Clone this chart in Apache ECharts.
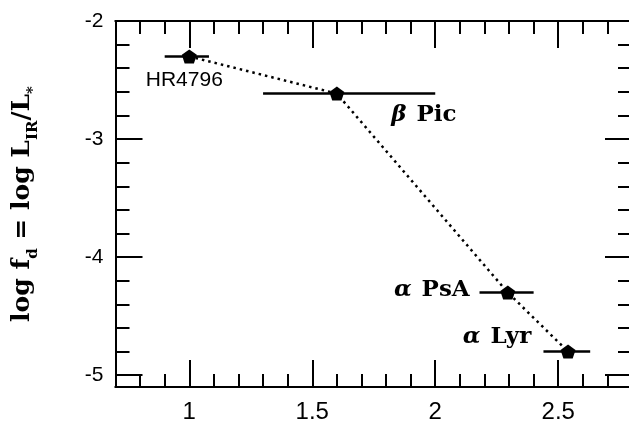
<!DOCTYPE html>
<html><head><meta charset="utf-8">
<script src="https://cdn.jsdelivr.net/npm/echarts@6/dist/echarts.min.js"></script>
<style>html,body{margin:0;padding:0;background:#fff}#c{width:629px;height:423px}</style>
</head><body><div id="c"></div>
<script>
// ---- data ----
const stars = ['HR4796', 'β Pic', 'α PsA', 'α Lyr'];
const xVals = [1.0, 1.60, 2.295, 2.54];
const yVals = [-2.30, -2.615, -4.30, -4.80];
const xLow  = [0.90, 1.30, 2.18, 2.44];
const xHigh = [1.08, 2.00, 2.40, 2.63];
const xMajorTicks = [1, 1.5, 2, 2.5];
const xMinorTicks = [0.8, 0.9, 1.1, 1.2, 1.3, 1.4, 1.6, 1.7, 1.8, 1.9, 2.1, 2.2, 2.3, 2.4, 2.6, 2.7];
const yMajorTicks = [-5, -4, -3, -2];
const yMinorTicks = [-4.8, -4.6, -4.4, -4.2, -3.8, -3.6, -3.4, -3.2, -2.8, -2.6, -2.4, -2.2];
const xRange = [0.7, 2.8];
const yRange = [-5.1, -2];

// ---- styling ----
const labelOffsets = [[-5, 24], [87, 21], [-76, -3], [-71, -15]];
const gridBox = { left: 115.5, top: 21, right: -3, bottom: 36, outerBoundsMode: 'none' };
const black = '#000';
const sansFont = 'Liberation Sans';
const serifFont = 'DejaVu Serif';

function xAxisDef(gridIndex, position, ticks, len, showLabels) {
  return {
    type: 'value', gridIndex, position, min: xRange[0], max: xRange[1],
    axisLine: { show: true, onZero: false, lineStyle: { color: black, width: 2 } },
    axisTick: { show: true, inside: true, length: len, customValues: ticks, lineStyle: { color: black, width: 2 } },
    axisLabel: showLabels ? { show: true, customValues: xMajorTicks, color: black, fontFamily: sansFont, fontSize: 24, margin: 13 } : { show: false },
    splitLine: { show: false }
  };
}
function yAxisDef(gridIndex, position, ticks, len, showLabels, withName) {
  const a = {
    type: 'value', gridIndex, position, min: yRange[0], max: yRange[1],
    axisLine: { show: true, onZero: false, lineStyle: { color: black, width: 2 } },
    axisTick: { show: true, inside: true, length: len, customValues: ticks, lineStyle: { color: black, width: 2 } },
    axisLabel: showLabels ? { show: true, customValues: yMajorTicks, color: black, fontFamily: sansFont, fontSize: 21, margin: 12 } : { show: false },
    splitLine: { show: false }
  };
  if (withName) {
    a.name = '{m|log f}{s|d}{m| = log L}{s|IR}{m|/L}{s|*}';
    a.nameLocation = 'middle';
    a.nameRotate = 90;
    a.nameGap = 75;
    a.nameTextStyle = {
      color: black,
      rich: {
        m: { fontFamily: serifFont, fontWeight: 'bold', fontSize: 25, lineHeight: 36, color: black, verticalAlign: 'middle' },
        s: { fontFamily: serifFont, fontWeight: 'bold', fontSize: 15, lineHeight: 20, color: black, verticalAlign: 'bottom' }
      }
    };
  }
  return a;
}

const chart = echarts.init(document.getElementById('c'), null, { renderer: 'canvas' });
chart.setOption({
  backgroundColor: '#fff',
  animation: false,
  grid: [Object.assign({}, gridBox), Object.assign({}, gridBox)],
  xAxis: [
    xAxisDef(0, 'bottom', xMajorTicks, 27, true),
    xAxisDef(0, 'top', xMajorTicks, 27, false),
    xAxisDef(1, 'bottom', xMinorTicks, 13, false),
    xAxisDef(1, 'top', xMinorTicks, 13, false)
  ],
  yAxis: [
    yAxisDef(0, 'left', yMajorTicks, 27, true, true),
    yAxisDef(0, 'right', yMajorTicks, 27, false, false),
    yAxisDef(1, 'left', yMinorTicks, 14, false, false),
    yAxisDef(1, 'right', yMinorTicks, 14, false, false)
  ],
  series: [
    {
      type: 'custom', xAxisIndex: 0, yAxisIndex: 0, z: 2,
      data: stars.map((s, i) => [xVals[i], yVals[i], xLow[i], xHigh[i]]),
      encode: { x: 0, y: 1 },
      renderItem(params, api) {
        const y = api.value(1);
        const p1 = api.coord([api.value(2), y]);
        const p2 = api.coord([api.value(3), y]);
        return { type: 'line', shape: { x1: p1[0], y1: p1[1], x2: p2[0], y2: p2[1] },
                 style: { stroke: black, lineWidth: 2.5 } };
      }
    },
    {
      type: 'line', xAxisIndex: 0, yAxisIndex: 0, z: 3,
      symbol: 'path://M0,-1 L0.951,-0.309 L0.588,0.809 L-0.588,0.809 L-0.951,-0.309 Z',
      symbolSize: [15, 14],
      itemStyle: { color: black },
      lineStyle: { color: black, width: 2.5, type: [2.5, 4] },
      data: stars.map((s, i) => ({
        name: s, value: [xVals[i], yVals[i]],
        label: { show: true, position: 'inside', offset: labelOffsets[i] }
      })),
      label: {
        formatter(p) {
          const m = p.name.match(/^([αβ])\s(.*)$/);
          return m ? `{g|${m[1]}}{t|${m[2]}}` : `{h|${p.name}}`;
        },
        rich: {
          h: { fontFamily: sansFont, fontSize: 21, color: black },
          g: { fontFamily: serifFont, fontWeight: 'bold', fontStyle: 'italic', fontSize: 23, color: black, padding: [0, 10, 0, 0] },
          t: { fontFamily: serifFont, fontWeight: 'bold', fontSize: 23, color: black }
        }
      },
      emphasis: { disabled: true }
    }
  ]
});
</script>
</body></html>
